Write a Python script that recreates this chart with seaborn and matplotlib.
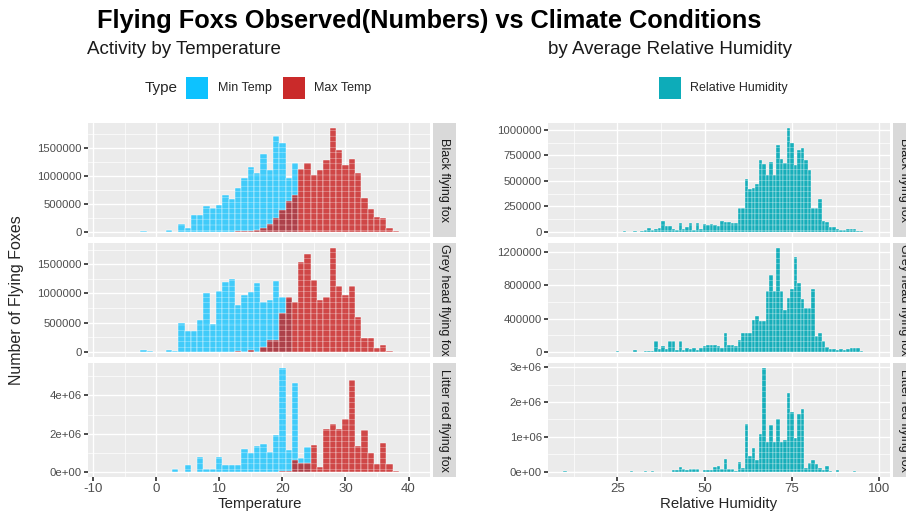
import numpy as np
import pandas as pd
import seaborn as sns
import matplotlib.pyplot as plt
from matplotlib.patches import Rectangle
from matplotlib.ticker import FuncFormatter

# ---- data (bin centre, number of flying foxes observed) ----
species = ["Black flying fox", "Grey head flying fox", "Litter red flying fox"]

# Activity by temperature
black_min_t = [-2, 0, 2, 4, 5, 6, 7, 8, 9, 10, 11, 12, 13, 14, 15, 16, 17, 18, 19, 20, 21, 22]
black_min_n = [10e3, 5e3, 25e3, 134e3, 60e3, 300e3, 300e3, 470e3, 430e3, 480e3, 665e3, 580e3,
               787e3, 958e3, 1159e3, 1050e3, 1400e3, 1100e3, 1720e3, 1590e3, 960e3, 1240e3]
black_max_t = [13, 14, 15, 16, 17, 18, 19, 20, 21, 22, 23, 24, 25, 26, 27, 28, 29, 30,
               31, 32, 33, 34, 35, 36, 37, 38]
black_max_n = [10e3, 12e3, 10e3, 40e3, 60e3, 134e3, 256e3, 390e3, 543e3, 650e3, 1130e3, 1232e3,
               1018e3, 1110e3, 1281e3, 1854e3, 1458e3, 1200e3, 1311e3, 1050e3, 610e3, 409e3,
               268e3, 256e3, 61e3, 12e3]

grey_min_t = [-2, -1, 2, 3, 4, 5, 6, 7, 8, 9, 10, 11, 12, 13, 14, 15, 16, 17, 18, 19, 20, 21]
grey_min_n = [35e3, 10e3, 35e3, 15e3, 494e3, 350e3, 350e3, 540e3, 1006e3, 480e3, 1035e3,
              1192e3, 1238e3, 802e3, 965e3, 1023e3, 1180e3, 860e3, 890e3, 1209e3, 930e3, 900e3]
grey_max_t = [13, 15, 17, 18, 19, 20, 21, 22, 23, 24, 25, 26, 27, 28, 29, 30, 31, 32, 33,
              34, 35, 36, 37, 38]
grey_max_n = [17e3, 35e3, 75e3, 209e3, 209e3, 669e3, 930e3, 860e3, 1540e3, 1674e3, 1227e3,
              878e3, 930e3, 1773e3, 1134e3, 977e3, 1122e3, 599e3, 233e3, 233e3, 64e3, 122e3,
              17e3, 5e3]

red_min_t = [0, 3, 5, 7, 8, 9, 10, 11, 12, 13, 14, 15, 16, 17, 18, 19, 20, 21, 22, 23, 24]
red_min_n = [10e3, 125e3, 357e3, 800e3, 160e3, 160e3, 750e3, 357e3, 357e3, 357e3, 1196e3,
             964e3, 1357e3, 1464e3, 1018e3, 1911e3, 5428e3, 1143e3, 4643e3, 714e3, 1286e3]
red_max_t = [20, 21, 22, 23, 24, 25, 26, 27, 28, 29, 30, 31, 32, 33, 34, 35, 36, 37, 38]
red_max_n = [40e3, 20e3, 625e3, 446e3, 446e3, 1410e3, 250e3, 2232e3, 2500e3, 2268e3, 2768e3,
             4821e3, 1375e3, 2214e3, 964e3, 393e3, 1500e3, 393e3, 20e3]

# Activity by average relative humidity
black_rh = [27, 30, 32, 33, 34, 35, 36, 37, 38, 39, 40, 41, 42, 43, 44, 45, 46, 47, 48, 49, 50,
            51, 52, 53, 54, 55, 56, 57, 58, 59, 60, 61, 62, 63, 64, 65, 66, 67, 68, 69, 70, 71,
            72, 73, 74, 75, 76, 77, 78, 79, 80, 81, 82, 83, 84, 85, 86, 87, 88, 89, 90, 91, 92,
            93, 94, 95]
black_rh_n = [10e3, 5e3, 10e3, 20e3, 35e3, 20e3, 25e3, 35e3, 110e3, 55e3, 55e3, 25e3, 20e3,
              90e3, 30e3, 50e3, 90e3, 20e3, 90e3, 25e3, 75e3, 70e3, 80e3, 65e3, 55e3, 110e3,
              100e3, 100e3, 90e3, 90e3, 235e3, 237e3, 520e3, 420e3, 427e3, 467e3, 703e3, 670e3,
              560e3, 683e3, 560e3, 850e3, 710e3, 677e3, 1017e3, 870e3, 660e3, 803e3, 823e3,
              703e3, 603e3, 235e3, 235e3, 325e3, 110e3, 100e3, 45e3, 45e3, 25e3, 15e3, 20e3,
              30e3, 30e3, 25e3, 10e3, 5e3]

grey_rh = [25, 30, 33, 34, 35, 36, 37, 38, 39, 40, 41, 42, 43, 44, 45, 46, 47, 48, 49, 50, 51,
           52, 53, 54, 55, 56, 57, 58, 59, 60, 61, 62, 63, 64, 65, 66, 67, 68, 69, 70, 71, 72,
           73, 74, 75, 76, 77, 78, 79, 80, 81, 82, 83, 84, 85, 86, 87, 88, 89, 90, 91, 92, 93,
           94, 95]
grey_rh_n = [12e3, 20e3, 8e3, 10e3, 12e3, 135e3, 33e3, 75e3, 33e3, 127e3, 135e3, 20e3, 135e3,
             20e3, 45e3, 33e3, 45e3, 20e3, 45e3, 75e3, 82e3, 82e3, 82e3, 75e3, 45e3, 229e3,
             82e3, 82e3, 75e3, 147e3, 229e3, 229e3, 229e3, 381e3, 430e3, 368e3, 368e3, 729e3,
             921e3, 728e3, 1250e3, 728e3, 504e3, 647e3, 758e3, 1140e3, 831e3, 635e3, 524e3,
             524e3, 758e3, 196e3, 230e3, 135e3, 60e3, 40e3, 30e3, 20e3, 30e3, 20e3, 30e3,
             45e3, 45e3, 45e3, 10e3]

red_rh = [10, 29, 33, 35, 41, 42, 43, 44, 45, 46, 47, 48, 50, 51, 52, 53, 54, 55, 56, 57, 58,
          59, 60, 61, 62, 63, 64, 65, 66, 67, 68, 69, 70, 71, 72, 73, 74, 75, 76, 77, 78, 79,
          80, 81, 82, 83, 84, 85, 86, 88, 93]
red_rh_n = [10e3, 30e3, 20e3, 15e3, 60e3, 50e3, 135e3, 70e3, 60e3, 80e3, 70e3, 90e3, 60e3,
            50e3, 60e3, 135e3, 155e3, 90e3, 379e3, 87e3, 87e3, 30e3, 280e3, 116e3, 1380e3,
            456e3, 670e3, 330e3, 1090e3, 2970e3, 864e3, 1350e3, 864e3, 1510e3, 864e3, 913e3,
            2250e3, 1710e3, 961e3, 1660e3, 1790e3, 116e3, 262e3, 330e3, 233e3, 116e3, 58e3,
            155e3, 10e3, 40e3, 30e3]

temp_sets = [(black_min_t, black_min_n, black_max_t, black_max_n),
             (grey_min_t, grey_min_n, grey_max_t, grey_max_n),
             (red_min_t, red_min_n, red_max_t, red_max_n)]
rh_sets = [(black_rh, black_rh_n), (grey_rh, grey_rh_n), (red_rh, red_rh_n)]

temp_yticks = [[0, 500000, 1000000, 1500000], [0, 500000, 1000000, 1500000], [0, 2e6, 4e6]]
rh_yticks = [[0, 250000, 500000, 750000, 1000000], [0, 400000, 800000, 1200000],
             [0, 1e6, 2e6, 3e6]]
sci_row = [False, False, True]

MIN_COL, MAX_COL, RH_COL = "#00BFFF", "#C81E1E", "#00A8B5"

sns.set_theme(style="darkgrid", rc={"axes.facecolor": "#EBEBEB", "grid.color": "white",
                                    "hatch.linewidth": 0.2, "axes.unicode_minus": False})
plt.rcParams["font.family"] = ["Liberation Sans", "DejaVu Sans"]

W, H = 906, 512
fig = plt.figure(figsize=(W / 100, H / 100), dpi=100)


def px(x0, y0, x1, y1):
    return [x0 / W, 1 - y1 / H, (x1 - x0) / W, (y1 - y0) / H]


def fmt(sci):
    if sci:
        return FuncFormatter(lambda v, p: "%.0e" % v if v != 0 else "0e+00")
    return FuncFormatter(lambda v, p: "%d" % v)


def style_panel(ax, xlim, xmajor, xminor, yticks, sci, top):
    ax.set_xlim(*xlim)
    top_val = top * 1.05
    ax.set_ylim(-top * 0.05, top_val)
    ax.set_xticks(xmajor)
    ax.set_xticks(xminor, minor=True)
    ax.set_yticks(yticks)
    step = yticks[1] - yticks[0]
    ymin = [t + step / 2 for t in yticks if t + step / 2 < top_val]
    ax.set_yticks(ymin, minor=True)
    ax.yaxis.set_major_formatter(fmt(sci))
    ax.grid(which="major", color="white", lw=1.0)
    ax.grid(which="minor", color="white", lw=0.5)
    ax.tick_params(which="major", length=3, color="#333333", labelsize=8.2,
                   labelcolor="#4D4D4D", pad=1.5, left=True, bottom=True)
    ax.tick_params(which="minor", length=0)
    ax.set_xlabel("")
    ax.set_ylabel("")
    for s in ax.spines.values():
        s.set_visible(False)
    ax.set_axisbelow(True)


def strip(x0, y0, x1, y1, label):
    sax = fig.add_axes(px(x0, y0, x1, y1))
    sax.set_facecolor("#D9D9D9")
    sax.set_xticks([])
    sax.set_yticks([])
    for s in sax.spines.values():
        s.set_visible(False)
    sax.text(0.5, 0.5, label, rotation=270, ha="center", va="center", fontsize=9,
             color="#1A1A1A", transform=sax.transAxes)


rows = [(123, 237), (243, 357), (363, 477)]

for i, (y0, y1) in enumerate(rows):
    # temperature facet
    ax = fig.add_axes(px(88, y0, 430, y1))
    tmin, nmin, tmax, nmax = temp_sets[i]
    df_min = pd.DataFrame({"Temperature": tmin, "n": nmin})
    df_max = pd.DataFrame({"Temperature": tmax, "n": nmax})
    sns.histplot(data=df_min, x="Temperature", weights="n", discrete=True, color=MIN_COL,
                 alpha=0.72, edgecolor="white", linewidth=0.3, hatch="---", ax=ax)
    sns.histplot(data=df_max, x="Temperature", weights="n", discrete=True, color=MAX_COL,
                 alpha=0.8, edgecolor="white", linewidth=0.3, hatch="---", ax=ax)
    style_panel(ax, (-10.8, 43.4), [-10, 0, 10, 20, 30, 40], [-5, 5, 15, 25, 35],
                temp_yticks[i], sci_row[i], max(max(nmin), max(nmax)))
    if i < 2:
        ax.tick_params(axis="x", which="major", labelbottom=False, length=0)
    else:
        ax.tick_params(axis="x", labelsize=9.5)
    strip(433, y0, 456, y1, species[i])

    # humidity facet
    ax2 = fig.add_axes(px(548, y0, 890, y1))
    rh, n = rh_sets[i]
    df_rh = pd.DataFrame({"Relative Humidity": rh, "n": n})
    sns.histplot(data=df_rh, x="Relative Humidity", weights="n", discrete=True, color=RH_COL,
                 alpha=0.9, edgecolor="white", linewidth=0.25, hatch="---", ax=ax2)
    style_panel(ax2, (5.1, 103.1), [25, 50, 75, 100], [12.5, 37.5, 62.5, 87.5],
                rh_yticks[i], sci_row[i], max(n))
    if i < 2:
        ax2.tick_params(axis="x", which="major", labelbottom=False, length=0)
    else:
        ax2.tick_params(axis="x", labelsize=9.5)
    strip(893, y0, 916, y1, species[i])

# titles and axis labels
fig.text(429 / W, 1 - 21 / H, "Flying Foxs Observed(Numbers) vs Climate Conditions",
         ha="center", va="center", fontsize=18.3, fontweight="bold", color="black")
fig.text(87 / W, 1 - 49 / H, "Activity by Temperature", ha="left", va="center",
         fontsize=13.5, color="#1A1A1A")
fig.text(548 / W, 1 - 49 / H, "by Average Relative Humidity", ha="left", va="center",
         fontsize=13.5, color="#1A1A1A")
fig.text(260 / W, 1 - 504 / H, "Temperature", ha="center", va="center", fontsize=10.8)
fig.text(719 / W, 1 - 504 / H, "Relative Humidity", ha="center", va="center", fontsize=10.8)
fig.text(17 / W, 1 - 300 / H, "Number of Flying Foxes", rotation=90, ha="center",
         va="center", fontsize=11.5)

# legends
fig.text(145 / W, 1 - 88 / H, "Type", ha="left", va="center", fontsize=11)
fig.patches.append(Rectangle((186 / W, 1 - 99 / H), 22 / W, 22 / H, transform=fig.transFigure,
                             facecolor=MIN_COL, alpha=0.95, edgecolor="none"))
fig.text(218 / W, 1 - 88 / H, "Min Temp", ha="left", va="center", fontsize=9)
fig.patches.append(Rectangle((283 / W, 1 - 99 / H), 22 / W, 22 / H, transform=fig.transFigure,
                             facecolor=MAX_COL, alpha=0.95, edgecolor="none"))
fig.text(314 / W, 1 - 88 / H, "Max Temp", ha="left", va="center", fontsize=9)
fig.patches.append(Rectangle((659 / W, 1 - 99 / H), 22 / W, 22 / H, transform=fig.transFigure,
                             facecolor=RH_COL, alpha=0.95, edgecolor="none"))
fig.text(690 / W, 1 - 88 / H, "Relative Humidity", ha="left", va="center", fontsize=9)

fig.savefig("out.png", dpi=100)
